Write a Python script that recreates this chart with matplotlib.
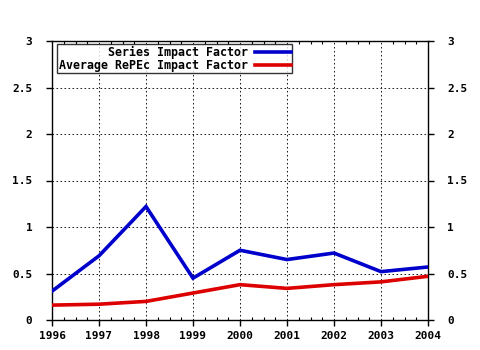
import numpy as np
import matplotlib
matplotlib.use("Agg")
import matplotlib.pyplot as plt
from matplotlib.ticker import AutoMinorLocator

years = [1996, 1997, 1998, 1999, 2000, 2001, 2002, 2003, 2004]
series_if = [0.31, 0.69, 1.22, 0.45, 0.75, 0.65, 0.72, 0.52, 0.57]
repec_if = [0.16, 0.17, 0.20, 0.29, 0.38, 0.34, 0.38, 0.41, 0.47]
y_ticks = [0, 0.5, 1, 1.5, 2, 2.5, 3]
y_labels = ["0", "0.5", "1", "1.5", "2", "2.5", "3"]

plt.rcParams['font.family'] = ['DejaVu Sans Mono']
plt.rcParams['font.weight'] = 'bold'
plt.rcParams['font.size'] = 8

fig = plt.figure(figsize=(4.8, 3.5), dpi=100)
ax = fig.add_axes([52 / 480, 30 / 350, 376 / 480, 279 / 350])

ax.plot(years, series_if, color='#0000cc', lw=2.6, label='Series Impact Factor',
        solid_joinstyle='miter', zorder=3)
ax.plot(years, repec_if, color='#dd0000', lw=2.6, label='Average RePEc Impact Factor',
        solid_joinstyle='miter', zorder=3)

ax.set_xlim(1996, 2004)
ax.set_ylim(0, 3)
ax.set_xticks(years)
ax.set_xticklabels([str(y) for y in years])
ax.set_yticks(y_ticks)
ax.set_yticklabels(y_labels)
ax.xaxis.set_minor_locator(AutoMinorLocator(4))
ax.yaxis.set_minor_locator(AutoMinorLocator(5))
ax.grid(True, which='major', color='#222222', linestyle=(0, (1.6, 2.4)), lw=0.72)

ax.tick_params(axis='x', which='major', direction='out', length=4, width=1,
               top=False, pad=4)
ax.tick_params(axis='x', which='minor', direction='in', length=2, width=0.8,
               top=True)
ax.tick_params(axis='y', which='major', direction='out', length=4, width=1,
               left=True, right=True, labelleft=True, labelright=True, pad=10)
ax.tick_params(axis='y', which='minor', length=0)
for sp in ax.spines.values():
    sp.set_linewidth(1)
    sp.set_color('black')

# legend: labels right-aligned, line handles after the text
leg = ax.legend(loc='upper left', bbox_to_anchor=(0.014, 0.99), markerfirst=False,
                frameon=True, fancybox=False, shadow=False, handlelength=3.05,
                borderpad=0.15, labelspacing=0.0, handletextpad=0.6,
                borderaxespad=0, fontsize=8.4)
leg.get_frame().set_edgecolor('black')
leg.get_frame().set_linewidth(1)

fig.savefig('out.png', dpi=100)
